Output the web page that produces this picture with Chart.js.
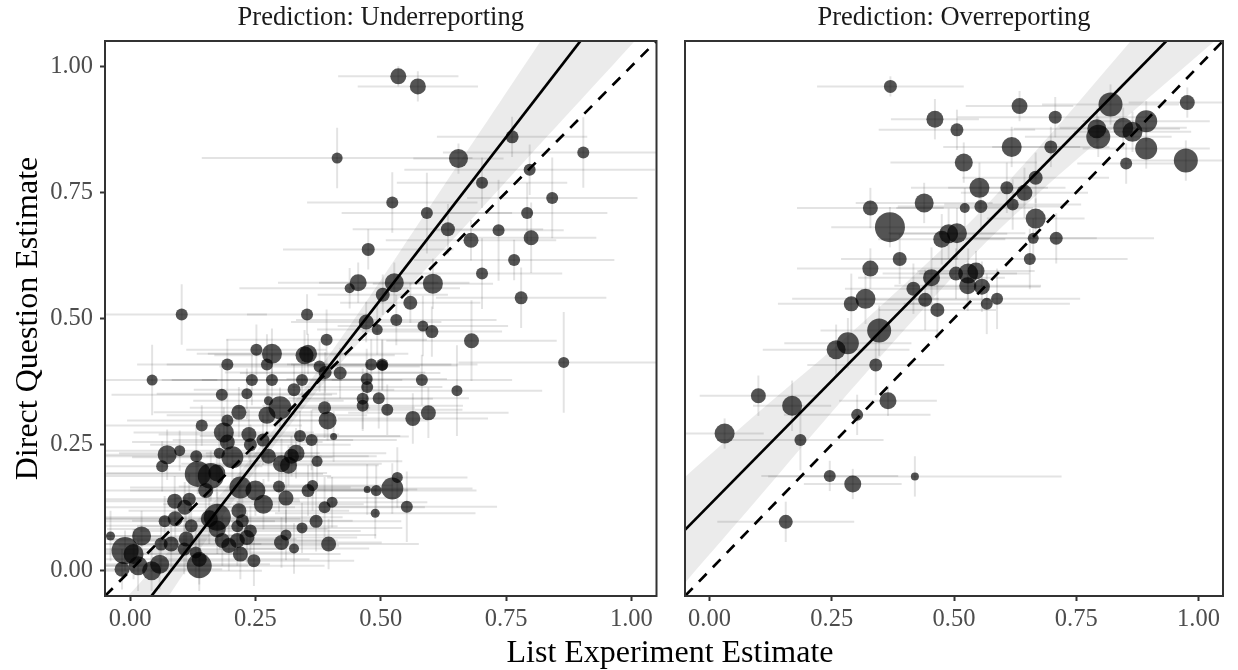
<!DOCTYPE html>
<html>
<head>
<meta charset="utf-8">
<title>List experiment vs direct question</title>
<script src="https://cdn.jsdelivr.net/npm/chart.js@4.4.1/dist/chart.umd.min.js"></script>
<style>
    html, body { margin: 0; padding: 0; background: #fff; }
    #figure { position: relative; width: 1238px; height: 670px; overflow: hidden; }
    #under { position: absolute; left: 0; top: 0; }
    #over { position: absolute; left: 670px; top: 0; }
    #xTitle {
        position: absolute; left: 670px; top: 635px; transform: translateX(-50%);
        font: 32px/32px "Liberation Serif", serif; color: #000; white-space: nowrap;
    }
</style>
</head>
<body>
<div id="figure">
    <canvas id="under" width="670" height="670"></canvas>
    <canvas id="over" width="568" height="670"></canvas>
    <div id="xTitle">List Experiment Estimate</div>
</div>
<script>
/* ================= DATA ================= */
const axisTicks = [0, 0.25, 0.5, 0.75, 1];
const axisRange = [-0.05, 1.05];
const refLine = [-0.05, 1.05]; // y = x

// Prediction: Underreporting
const underX = [
    0.535, 0.574, 0.413, 0.655, 0.762, 0.904, 0.797, 0.702, 0.842, 0.523,
    0.592, 0.792, 0.634, 0.735, 0.680, 0.800, 0.475, 0.766, 0.702, 0.455,
    0.527, 0.604, 0.438, 0.780, 0.504, 0.559, 0.103, 0.353, 0.531, 0.471,
    0.493, 0.392, 0.252, 0.283, 0.348, 0.355, 0.273, 0.194, 0.378, 0.419,
    0.389, 0.481, 0.503, 0.044, 0.243, 0.283, 0.343, 0.472, 0.473, 0.327,
    0.183, 0.233, 0.276, 0.299, 0.273, 0.217, 0.388, 0.394, 0.464, 0.496,
    0.513, 0.464, 0.194, 0.143, 0.187, 0.237, 0.339, 0.362, 0.406, 0.265,
    0.240, 0.194, 0.074, 0.099, 0.064, 0.132, 0.178, 0.204, 0.276, 0.322,
    0.331, 0.302, 0.316, 0.373, 0.135, 0.161, 0.173, 0.220, 0.250, 0.151,
    0.266, 0.311, 0.297, 0.355, 0.364, 0.388, 0.403, 0.089, 0.118, 0.109,
    0.090, 0.069, 0.122, 0.174, 0.158, 0.217, 0.224, 0.240, 0.214, 0.371,
    0.343, 0.311, 0.302, 0.396, 0.327, 0.174, -0.039, 0.023, -0.010, 0.007,
    -0.016, 0.016, 0.043, 0.059, 0.062, 0.082, 0.112, 0.138, 0.138, 0.131,
    0.197, 0.220, 0.233, 0.247, 0.473, 0.491, 0.523, 0.533, 0.489, 0.584,
    0.602, 0.681, 0.865, 0.503, 0.582, 0.652, 0.564, 0.595, 0.552, 0.108,
    0.214, 0.184
];
const underY = [
    0.980, 0.960, 0.818, 0.817, 0.860, 0.829, 0.795, 0.769, 0.739, 0.730,
    0.709, 0.709, 0.677, 0.675, 0.655, 0.660, 0.637, 0.616, 0.589, 0.571,
    0.571, 0.569, 0.560, 0.541, 0.547, 0.531, 0.508, 0.508, 0.497, 0.493,
    0.478, 0.458, 0.438, 0.430, 0.427, 0.430, 0.409, 0.409, 0.405, 0.392,
    0.393, 0.409, 0.409, 0.378, 0.378, 0.378, 0.378, 0.380, 0.364, 0.359,
    0.349, 0.351, 0.337, 0.323, 0.308, 0.314, 0.323, 0.298, 0.341, 0.342,
    0.319, 0.327, 0.298, 0.288, 0.274, 0.270, 0.267, 0.259, 0.266, 0.259,
    0.250, 0.255, 0.230, 0.238, 0.207, 0.227, 0.233, 0.225, 0.227, 0.227,
    0.233, 0.212, 0.209, 0.217, 0.192, 0.188, 0.194, 0.165, 0.159, 0.159,
    0.132, 0.144, 0.167, 0.159, 0.169, 0.126, 0.136, 0.138, 0.142, 0.126,
    0.103, 0.098, 0.089, 0.106, 0.103, 0.119, 0.099, 0.079, 0.088, 0.098,
    0.085, 0.071, 0.056, 0.053, 0.044, 0.083, 0.069, 0.069, 0.040, 0.033,
    0.003, 0.010, 0.000, 0.013, 0.053, 0.053, 0.063, 0.023, 0.010, 0.036,
    0.050, 0.033, 0.066, 0.020, 0.161, 0.159, 0.163, 0.185, 0.114, 0.485,
    0.474, 0.456, 0.413, 0.407, 0.378, 0.357, 0.302, 0.313, 0.127, 0.043,
    0.060, 0.060
];
const underSize = [
    8, 8, 5.5, 9.5, 6.5, 6, 6, 6, 6, 6,
    6, 6, 7, 6, 7.5, 7.5, 6.5, 6, 6, 8.5,
    9.5, 10, 5, 6.5, 7, 7, 6, 6, 6, 7.5,
    5.5, 6, 6, 10, 9, 9, 6, 6, 6, 6.5,
    6.5, 6, 6, 5.5, 6, 6, 6, 6, 6, 6.5,
    6, 5.5, 4.5, 11.5, 8.5, 7.5, 6.5, 9, 6, 6,
    6, 6, 6, 6, 10, 7.5, 6, 6, 3.5, 6.5,
    6.5, 7.5, 9.5, 5.5, 6, 6, 5.5, 11, 7.5, 7.5,
    8.5, 8.5, 8.5, 5.5, 13, 13, 8.5, 11, 10, 7.5,
    9.5, 7.5, 6, 6.5, 5.5, 6, 5.5, 7.5, 6.5, 7.5,
    7.5, 6, 6.5, 13.5, 8.5, 7.5, 6.5, 6.5, 6, 6.5,
    5.5, 5.5, 7.5, 7.5, 5, 8.5, 4.5, 9.5, 13.5, 10,
    7.5, 9.5, 9.5, 9.5, 6.5, 7.5, 7.5, 7.5, 12.5, 6,
    7.5, 7.5, 7.5, 6.5, 3.5, 5.5, 11, 5.5, 4.5, 5.5,
    6.5, 7.5, 5.5, 5.5, 6, 5.5, 7.5, 7.5, 6, 6.5,
    7.5, 7.5
];
const underXErr = [
    0.12, 0.12, 0.27, 0.09, 0.15, 0.28, 0.25, 0.17, 0.17, 0.17,
    0.17, 0.16, 0.19, 0.13, 0.17, 0.13, 0.17, 0.20, 0.16, 0.16,
    0.15, 0.12, 0.22, 0.17, 0.13, 0.14, 0.17, 0.12, 0.20, 0.15,
    0.12, 0.20, 0.14, 0.15, 0.18, 0.20, 0.20, 0.18, 0.20, 0.20,
    0.20, 0.16, 0.19, 0.13, 0.18, 0.20, 0.20, 0.16, 0.15, 0.20,
    0.22, 0.18, 0.15, 0.18, 0.20, 0.17, 0.18, 0.20, 0.14, 0.18,
    0.15, 0.20, 0.20, 0.20, 0.18, 0.18, 0.20, 0.17, 0.15, 0.18,
    0.20, 0.19, 0.25, 0.15, 0.20, 0.25, 0.20, 0.20, 0.20, 0.17,
    0.18, 0.20, 0.18, 0.17, 0.25, 0.24, 0.22, 0.22, 0.25, 0.20,
    0.20, 0.22, 0.20, 0.20, 0.16, 0.20, 0.19, 0.25, 0.22, 0.22,
    0.25, 0.22, 0.22, 0.25, 0.22, 0.22, 0.22, 0.22, 0.20, 0.17,
    0.20, 0.18, 0.20, 0.18, 0.15, 0.22, 0.10, 0.20, 0.25, 0.22,
    0.20, 0.22, 0.22, 0.22, 0.20, 0.22, 0.22, 0.22, 0.25, 0.20,
    0.22, 0.20, 0.22, 0.20, 0.10, 0.20, 0.16, 0.14, 0.20, 0.17,
    0.14, 0.17, 0.21, 0.15, 0.18, 0.17, 0.15, 0.16, 0.18, 0.20,
    0.20, 0.22
];
const underYErr = [
    0.02, 0.03, 0.06, 0.03, 0.04, 0.07, 0.05, 0.05, 0.08, 0.06,
    0.08, 0.06, 0.05, 0.10, 0.04, 0.07, 0.04, 0.04, 0.07, 0.04,
    0.04, 0.05, 0.04, 0.06, 0.04, 0.04, 0.06, 0.04, 0.05, 0.04,
    0.05, 0.06, 0.05, 0.05, 0.05, 0.04, 0.06, 0.05, 0.05, 0.05,
    0.04, 0.05, 0.05, 0.07, 0.05, 0.05, 0.04, 0.06, 0.05, 0.05,
    0.06, 0.05, 0.04, 0.04, 0.04, 0.05, 0.06, 0.04, 0.06, 0.06,
    0.05, 0.05, 0.06, 0.04, 0.05, 0.05, 0.05, 0.06, 0.05, 0.05,
    0.04, 0.05, 0.05, 0.04, 0.05, 0.06, 0.05, 0.05, 0.05, 0.04,
    0.05, 0.05, 0.04, 0.05, 0.04, 0.05, 0.05, 0.05, 0.05, 0.05,
    0.05, 0.05, 0.05, 0.05, 0.05, 0.06, 0.05, 0.05, 0.05, 0.05,
    0.05, 0.05, 0.05, 0.05, 0.05, 0.05, 0.05, 0.05, 0.05, 0.06,
    0.05, 0.05, 0.05, 0.05, 0.05, 0.05, 0.05, 0.05, 0.04, 0.05,
    0.04, 0.05, 0.04, 0.05, 0.05, 0.05, 0.05, 0.05, 0.05, 0.05,
    0.05, 0.05, 0.05, 0.05, 0.05, 0.05, 0.05, 0.06, 0.05, 0.06,
    0.05, 0.08, 0.10, 0.05, 0.05, 0.09, 0.05, 0.05, 0.07, 0.05,
    0.05, 0.05
];
const underFitX = [-0.05, 1.05];
const underFitY = [-0.169, 1.245];
const underBandX = [-0.05, 0.1, 0.2, 0.3, 0.4, 0.5, 0.6, 0.7, 0.8, 0.9, 1.05];
const underBandLow = [-0.24, -0.016, 0.130, 0.264, 0.388, 0.500, 0.609, 0.717, 0.826, 0.934, 1.097];
const underBandHigh = [-0.10, 0.064, 0.174, 0.298, 0.432, 0.576, 0.725, 0.873, 1.022, 1.170, 1.393];

// Prediction: Overreporting
const overX = [
    0.370, 0.461, 0.506, 0.634, 0.707, 0.820, 0.977, 0.893, 0.846, 0.865,
    0.792, 0.795, 0.893, 0.974, 0.852, 0.698, 0.618, 0.520, 0.552, 0.608,
    0.644, 0.667, 0.439, 0.329, 0.522, 0.555, 0.620, 0.667, 0.369, 0.506,
    0.489, 0.475, 0.662, 0.709, 0.389, 0.329, 0.655, 0.454, 0.504, 0.529,
    0.545, 0.528, 0.557, 0.417, 0.588, 0.567, 0.441, 0.466, 0.319, 0.290,
    0.347, 0.283, 0.259, 0.340, 0.100, 0.169, 0.365, 0.302, 0.031, 0.186,
    0.246, 0.293, 0.420, 0.156
];
const overY = [
    0.960, 0.895, 0.874, 0.921, 0.899, 0.924, 0.928, 0.891, 0.878, 0.870,
    0.876, 0.860, 0.837, 0.813, 0.807, 0.840, 0.840, 0.809, 0.759, 0.759,
    0.749, 0.779, 0.729, 0.719, 0.719, 0.722, 0.726, 0.698, 0.681, 0.669,
    0.668, 0.657, 0.659, 0.659, 0.618, 0.599, 0.618, 0.581, 0.589, 0.589,
    0.594, 0.565, 0.563, 0.559, 0.539, 0.529, 0.537, 0.517, 0.539, 0.529,
    0.476, 0.451, 0.438, 0.408, 0.347, 0.327, 0.337, 0.309, 0.272, 0.259,
    0.188, 0.172, 0.187, 0.097
];
const overSize = [
    6.5, 8.5, 6.5, 8, 6.5, 12, 7.5, 11, 10, 10,
    9.5, 12, 11, 12, 6, 6.5, 10, 9, 10, 6.5,
    8, 7, 9.5, 7.5, 5, 6.5, 6, 10, 15, 10,
    9.5, 8.5, 5.5, 6.5, 7, 8, 6, 8.5, 7, 10,
    8.5, 8.5, 8, 7, 6, 6, 7, 7, 10, 7.5,
    12, 11, 9.5, 6.5, 7.5, 10, 8.5, 6, 10, 6,
    6, 8.5, 4, 7
];
const overXErr = [
    0.15, 0.09, 0.16, 0.11, 0.20, 0.14, 0.12, 0.13, 0.13, 0.12,
    0.17, 0.15, 0.13, 0.12, 0.10, 0.12, 0.14, 0.15, 0.14, 0.12,
    0.13, 0.15, 0.14, 0.15, 0.14, 0.17, 0.14, 0.10, 0.12, 0.14,
    0.12, 0.13, 0.13, 0.20, 0.12, 0.15, 0.20, 0.15, 0.15, 0.10,
    0.12, 0.15, 0.12, 0.14, 0.17, 0.17, 0.14, 0.12, 0.15, 0.15,
    0.12, 0.13, 0.15, 0.14, 0.12, 0.08, 0.10, 0.15, 0.08, 0.17,
    0.14, 0.10, 0.30, 0.14
];
const overYErr = [
    0.02, 0.04, 0.04, 0.03, 0.04, 0.04, 0.03, 0.04, 0.04, 0.04,
    0.04, 0.04, 0.04, 0.04, 0.04, 0.04, 0.04, 0.04, 0.05, 0.05,
    0.05, 0.05, 0.04, 0.04, 0.04, 0.05, 0.05, 0.04, 0.04, 0.05,
    0.05, 0.05, 0.04, 0.05, 0.05, 0.04, 0.06, 0.06, 0.05, 0.05,
    0.04, 0.05, 0.05, 0.05, 0.06, 0.06, 0.06, 0.06, 0.05, 0.06,
    0.05, 0.05, 0.05, 0.06, 0.04, 0.05, 0.03, 0.04, 0.03, 0.06,
    0.03, 0.03, 0.04, 0.04
];
const overFitX = [-0.05, 1.05];
const overFitY = [0.081, 1.164];
const overBandX = [-0.05, 0.1, 0.25, 0.4, 0.55, 0.7, 0.85, 1.05];
const overBandLow = [-0.024, 0.144, 0.314, 0.479, 0.636, 0.772, 0.897, 1.064];
const overBandHigh = [0.186, 0.314, 0.438, 0.569, 0.708, 0.868, 1.037, 1.264];

/* ================= HELPERS ================= */
const SERIF = "'Liberation Serif', 'Times New Roman', serif";
Chart.defaults.font.family = SERIF;

const toXY = (xs, ys) => xs.map((x, i) => ({ x, y: ys[i] }));

// horizontal + vertical CI segments, drawn just before the points
const errorBars = {
    id: "errorBars",
    beforeDatasetDraw(chart, args) {
        const ds = chart.data.datasets[args.index];
        if (!ds.errX) return;
        const { ctx, chartArea: a } = chart;
        const sx = chart.scales.x, sy = chart.scales.y;
        ctx.save();
        ctx.beginPath();
        ctx.rect(a.left, a.top, a.right - a.left, a.bottom - a.top);
        ctx.clip();
        ctx.strokeStyle = "rgba(0,0,0,0.11)";
        ctx.lineWidth = 2;
        ds.data.forEach((p, i) => {
            const px = sx.getPixelForValue(p.x);
            const py = sy.getPixelForValue(p.y);
            ctx.beginPath();
            ctx.moveTo(sx.getPixelForValue(p.x - ds.errX[i]), py);
            ctx.lineTo(sx.getPixelForValue(p.x + ds.errX[i]), py);
            ctx.stroke();
            ctx.beginPath();
            ctx.moveTo(px, sy.getPixelForValue(p.y - ds.errY[i]));
            ctx.lineTo(px, sy.getPixelForValue(p.y + ds.errY[i]));
            ctx.stroke();
        });
        ctx.restore();
    }
};

const panelBorder = {
    id: "panelBorder",
    afterDraw(chart) {
        const { ctx, chartArea: a } = chart;
        ctx.save();
        ctx.strokeStyle = "#333333";
        ctx.lineWidth = 2;
        ctx.strokeRect(a.left, a.top, a.right - a.left, a.bottom - a.top);
        ctx.restore();
    }
};

const tickFont = { family: SERIF, size: 24.5 };
const tickGrid = {
    drawOnChartArea: false, drawTicks: true, tickLength: 5,
    tickColor: "#333333", tickWidth: 2
};
const fixedTicks = s => { s.ticks = axisTicks.map(v => ({ value: v })); };

function xScale() {
    return {
        type: "linear", min: axisRange[0], max: axisRange[1],
        afterBuildTicks: fixedTicks,
        afterFit: s => { s.height = 74; },
        border: { display: false },
        grid: tickGrid,
        ticks: {
            color: "#4d4d4d", font: tickFont, padding: 4,
            maxRotation: 0, autoSkip: false, callback: v => v.toFixed(2)
        }
    };
}

function yScale(showAxis) {
    if (!showAxis) return { type: "linear", display: false, min: axisRange[0], max: axisRange[1] };
    return {
        type: "linear", min: axisRange[0], max: axisRange[1],
        afterBuildTicks: fixedTicks,
        afterFit: s => { s.width = 105; },
        border: { display: false },
        grid: tickGrid,
        title: {
            display: true, text: "Direct Question Estimate", color: "#000",
            font: { family: SERIF, size: 32 }, padding: { top: 9, bottom: 0 }
        },
        ticks: {
            color: "#4d4d4d", font: tickFont, padding: 7,
            autoSkip: false, callback: v => v.toFixed(2)
        }
    };
}

function buildPanel(id, title, d, showY, padding) {
    return new Chart(document.getElementById(id), {
        type: "scatter",
        data: {
            datasets: [
                {
                    type: "line", data: toXY(d.bandX, d.bandHigh), showLine: true,
                    borderWidth: 0, borderColor: "transparent", pointRadius: 0,
                    fill: "+1", backgroundColor: "rgba(0,0,0,0.08)",
                    tension: 0.3, order: 4, clip: 0
                },
                {
                    type: "line", data: toXY(d.bandX, d.bandLow), showLine: true,
                    borderWidth: 0, borderColor: "transparent", pointRadius: 0,
                    fill: false, tension: 0.3, order: 5, clip: 0
                },
                {
                    type: "scatter", data: toXY(d.x, d.y),
                    pointRadius: d.size, pointHoverRadius: d.size,
                    backgroundColor: "rgba(0,0,0,0.67)", pointBackgroundColor: "rgba(0,0,0,0.67)",
                    borderWidth: 0, pointBorderWidth: 0,
                    errX: d.xErr, errY: d.yErr, order: 2, clip: 0
                },
                {
                    type: "line", data: toXY(d.fitX, d.fitY), showLine: true,
                    borderColor: "#000", borderWidth: 2.7, pointRadius: 0,
                    fill: false, order: 1, clip: 0
                },
                {
                    type: "line", data: toXY(refLine, refLine), showLine: true,
                    borderColor: "#000", borderWidth: 2.7, borderDash: [11, 9],
                    pointRadius: 0, fill: false, order: 0, clip: 0
                }
            ]
        },
        options: {
            responsive: false,
            animation: false,
            events: [],
            layout: { padding },
            plugins: {
                legend: { display: false },
                tooltip: { enabled: false },
                title: {
                    display: true, text: title, fullSize: false, color: "#1a1a1a",
                    font: { family: SERIF, size: 26.5, weight: "normal" },
                    padding: { top: 2, bottom: 7.2 }
                }
            },
            scales: { x: xScale(), y: yScale(showY) }
        },
        plugins: [errorBars, panelBorder]
    });
}

/* ================= BUILD ================= */
buildPanel("under", "Prediction: Underreporting", {
    x: underX, y: underY, size: underSize, xErr: underXErr, yErr: underYErr,
    fitX: underFitX, fitY: underFitY,
    bandX: underBandX, bandLow: underBandLow, bandHigh: underBandHigh
}, true, { left: 0, right: 7, top: 0, bottom: 0 });

buildPanel("over", "Prediction: Overreporting", {
    x: overX, y: overY, size: overSize, xErr: overXErr, yErr: overYErr,
    fitX: overFitX, fitY: overFitY,
    bandX: overBandX, bandLow: overBandLow, bandHigh: overBandHigh
}, false, { left: 8, right: 3, top: 0, bottom: 0 });
</script>
</body>
</html>
